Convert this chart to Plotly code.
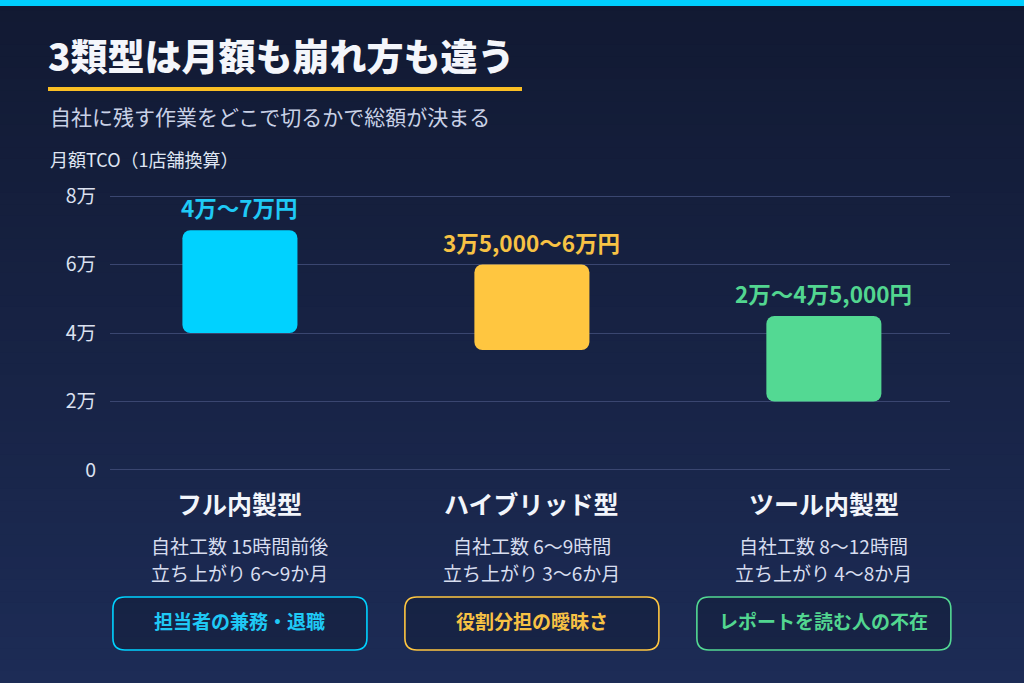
import plotly.graph_objects as go

# data (values in 万円)
categories = ["フル内製型", "ハイブリッド型", "ツール内製型"]
low = [4, 3.5, 2]
high = [7, 6, 4.5]
range_labels = ["4万〜7万円", "3万5,000〜6万円", "2万〜4万5,000円"]
hours = ["自社工数 15時間前後", "自社工数 6〜9時間", "自社工数 8〜12時間"]
launch = ["立ち上がり 6〜9か月", "立ち上がり 3〜6か月", "立ち上がり 4〜8か月"]
risks = ["担当者の兼務・退職", "役割分担の曖昧さ", "レポートを読む人の不在"]
tick_vals = [0, 2, 4, 6, 8]
tick_text = ["0", "2万", "4万", "6万", "8万"]

colors = ["#00d2ff", "#ffc640", "#53d993"]
text_colors = ["#1fc9f5", "#f7c244", "#52d690"]

W, H = 1024, 683
FONT = "Noto Sans CJK JP"
xr = [-0.445, 2.432]
yr = [-0.03, 8.03]
xdom = [110 / W, 950 / W]
ydom = [1 - 471 / H, 1 - 195 / H]
xs = list(range(len(categories)))

fig = go.Figure()
fig.add_trace(go.Bar(
    x=xs, y=[h - l for h, l in zip(high, low)], base=low,
    width=0.394, marker=dict(color=colors, line=dict(width=0)),
    hoverinfo="skip",
))

shapes = []
# background gradient bands
top_c = (18, 26, 51)
bot_c = (29, 44, 86)
n = 60
for i in range(n):
    t = i / (n - 1)
    c = tuple(int(a + (b - a) * t) for a, b in zip(top_c, bot_c))
    shapes.append(dict(type="rect", xref="paper", yref="paper", x0=0, x1=1,
                       y0=1 - (i + 1) / n, y1=1 - i / n + 0.001,
                       fillcolor="rgb(%d,%d,%d)" % c, line=dict(width=0), layer="below"))
# top strip
shapes.append(dict(type="rect", xref="paper", yref="paper", x0=0, x1=1,
                   y0=1 - 6 / H, y1=1, fillcolor="#00cfff", line=dict(width=0)))
# title underline
shapes.append(dict(type="rect", xref="paper", yref="paper", x0=48 / W, x1=522 / W,
                   y0=1 - 91 / H, y1=1 - 87 / H, fillcolor="#fbbf24", line=dict(width=0)))


def px_of(x):
    return xdom[0] * W + (x - xr[0]) / (xr[1] - xr[0]) * (xdom[1] - xdom[0]) * W


def rounded(x0, y0, x1, y1, r):
    # pixel coords -> paper path
    def P(x, y):
        return "%.5f,%.5f" % (x / W, 1 - y / H)
    return ("M" + P(x0 + r, y0) + " L" + P(x1 - r, y0) + " Q" + P(x1, y0) + " " + P(x1, y0 + r)
            + " L" + P(x1, y1 - r) + " Q" + P(x1, y1) + " " + P(x1 - r, y1)
            + " L" + P(x0 + r, y1) + " Q" + P(x0, y1) + " " + P(x0, y1 - r)
            + " L" + P(x0, y0 + r) + " Q" + P(x0, y0) + " " + P(x0 + r, y0) + " Z")


annotations = [
    dict(text="3類型は月額も崩れ方も違う", x=46 / W, y=1 - 55 / H, xanchor="left", yanchor="middle",
         font=dict(size=37, color="#f4f6fb", family=FONT, weight=900)),
    dict(text="自社に残す作業をどこで切るかで総額が決まる", x=48 / W, y=1 - 116 / H, xanchor="left",
         yanchor="middle", font=dict(size=21, color="#c9d1e6", family=FONT)),
    dict(text="月額TCO（1店舗換算）", x=48 / W, y=1 - 159 / H, xanchor="left", yanchor="middle",
         font=dict(size=18, color="#dfe5f2", family=FONT)),
]
for a in annotations:
    a.update(xref="paper", yref="paper", showarrow=False)

for i, x in enumerate(xs):
    cx = px_of(x)
    annotations.append(dict(text="<b>%s</b>" % range_labels[i], x=x, y=high[i], xref="x", yref="y",
                            xanchor="center", yanchor="bottom", yshift=5, showarrow=False,
                            font=dict(size=22.5, color=text_colors[i], family=FONT)))
    annotations.append(dict(text="<b>%s</b>" % categories[i], x=cx / W, y=1 - 503 / H, xref="paper",
                            yref="paper", xanchor="center", yanchor="middle", showarrow=False,
                            font=dict(size=25, color="#f2f5fb", family=FONT)))
    annotations.append(dict(text=hours[i], x=cx / W, y=1 - 545 / H, xref="paper", yref="paper",
                            xanchor="center", yanchor="middle", showarrow=False,
                            font=dict(size=19, color="#d7ddef", family=FONT)))
    annotations.append(dict(text=launch[i], x=cx / W, y=1 - 572 / H, xref="paper", yref="paper",
                            xanchor="center", yanchor="middle", showarrow=False,
                            font=dict(size=19, color="#d7ddef", family=FONT)))
    annotations.append(dict(text="<b>%s</b>" % risks[i], x=cx / W, y=1 - 620 / H, xref="paper",
                            yref="paper", xanchor="center", yanchor="middle", showarrow=False,
                            font=dict(size=19, color=text_colors[i], family=FONT)))
    shapes.append(dict(type="path", xref="paper", yref="paper",
                       path=rounded(cx - 127, 597, cx + 127, 650, 12),
                       fillcolor="rgba(14,22,44,0.35)", line=dict(color=colors[i], width=1.6)))

fig.update_layout(
    width=W, height=H,
    margin=dict(l=0, r=0, t=0, b=0, pad=0, autoexpand=False),
    paper_bgcolor="#18244a",
    plot_bgcolor="rgba(0,0,0,0)",
    showlegend=False,
    barcornerradius=8,
    font=dict(family=FONT),
    xaxis=dict(domain=xdom, range=xr, visible=False, fixedrange=True, automargin=False),
    yaxis=dict(domain=ydom, range=yr, tickvals=tick_vals, ticktext=tick_text,
               showgrid=True, gridcolor="#3a4670", gridwidth=1, zeroline=False,
               showline=False, ticks="", ticklabelstandoff=13, automargin=False,
               tickfont=dict(size=19.5, color="#dbe1f0", family=FONT), fixedrange=True),
    shapes=shapes,
    annotations=annotations,
)

fig.write_html("out.html", config={"displayModeBar": False},
               post_script="document.body.style.margin='0';document.body.style.overflow='hidden';")
